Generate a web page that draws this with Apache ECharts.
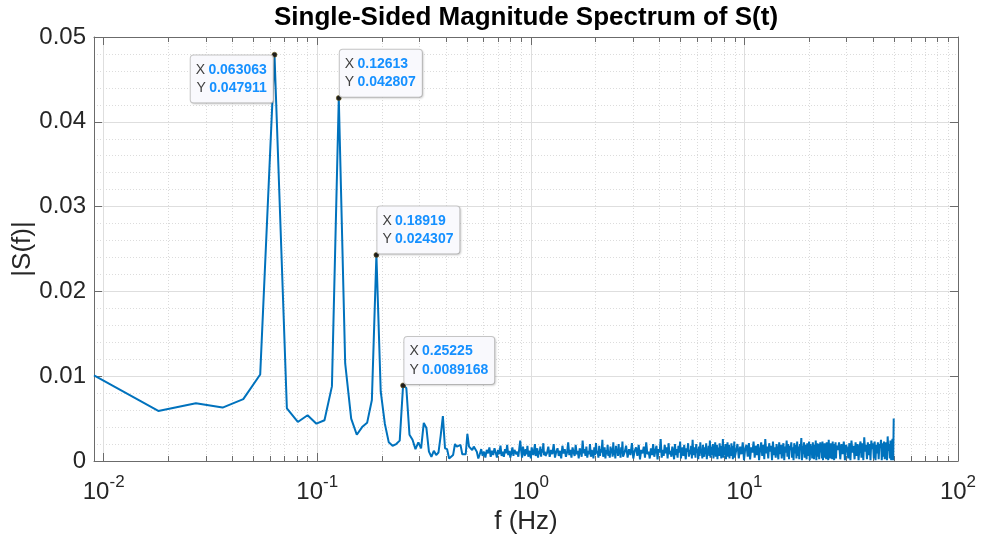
<!DOCTYPE html>
<html>
<head>
<meta charset="utf-8">
<script src="https://cdn.jsdelivr.net/npm/echarts@6/dist/echarts.min.js"></script>
<style>
html,body{margin:0;padding:0;background:#ffffff;}
#chart{width:981px;height:542px;}
</style>
</head>
<body>
<div id="chart"></div>
<script>
// ---------------- data ----------------
const titleText = 'Single-Sided Magnitude Spectrum of S(t)';
const xLabelText = 'f (Hz)';
const yLabelText = '|S(f)|';

const binWidthHz = 1 / 111;          // frequency resolution of the FFT
const lowStartBin = 1;               // first bin shown (bins 1..63, one per bin)
const lowMag = [
  0.0101, 0.0059, 0.0068, 0.0063, 0.0073, 0.0102, 0.047911, 0.0062, 0.0046, 0.0054,
  0.0044, 0.0048, 0.0088, 0.042807, 0.0115, 0.0050, 0.0031, 0.0040, 0.0045, 0.0072,
  0.024307, 0.0082, 0.0044, 0.0022, 0.0018, 0.0020, 0.0024, 0.0089168, 0.0086, 0.0031,
  0.0025, 0.0014, 0.0022, 0.0015, 0.0045, 0.0039, 0.0011, 0.0005, 0.0012, 0.0007,
  0.0010, 0.0030, 0.0053, 0.0015, 0.0014, 0.0003, 0.0001, 0.0007, 0.0020, 0.0017,
  0.0015, 0.0019, 0.0008, 0.0007, 0.0008, 0.0032, 0.0017, 0.0019, 0.0013, 0.0017,
  0.0015, 0.0011, 0.0003
];

// noise floor, read as segments: start bin and bin step for each
const segStartBin = [64, 132, 305, 1015, 3040];
const segBinStep  = [1, 2, 5, 15, 40];
const noiseA = [
  0.0008, 0.0014, 0.0006, 0.0011, 0.0004, 0.0013, 0.0009, 0.0016, 0.0005, 0.0012,
  0.0007, 0.0015, 0.0010, 0.0004, 0.0013, 0.0008, 0.0018, 0.0006, 0.0011, 0.0005,
  0.0014, 0.0009, 0.0019, 0.0007, 0.0012, 0.0004, 0.0010, 0.0016, 0.0006, 0.0013,
  0.0014, 0.0008, 0.0011, 0.0005, 0.0015, 0.0024, 0.0012, 0.0004, 0.0017, 0.0010,
  0.0006, 0.0014, 0.0008, 0.0018, 0.0005, 0.0012, 0.0009, 0.0003, 0.0016, 0.0011,
  0.0007, 0.0013, 0.0020, 0.0006, 0.0010, 0.0015, 0.0004, 0.0012, 0.0008, 0.0017,
  0.0005, 0.0014, 0.0010, 0.0021, 0.0007, 0.0011, 0.0006
];
const noiseB = [
  0.0009, 0.0017, 0.0005, 0.0013, 0.0008, 0.0020, 0.0004, 0.0011, 0.0015, 0.0006,
  0.0012, 0.0003, 0.0018, 0.0009, 0.0014, 0.0005, 0.0010, 0.0022, 0.0007, 0.0013,
  0.0004, 0.0016, 0.0010, 0.0006, 0.0019, 0.0008, 0.0012, 0.0003, 0.0015, 0.0011,
  0.0005, 0.0024, 0.0009, 0.0014, 0.0006, 0.0017, 0.0004, 0.0012, 0.0008, 0.0020,
  0.0005, 0.0013, 0.0010, 0.0003, 0.0016, 0.0007, 0.0021, 0.0009, 0.0012, 0.0004,
  0.0018, 0.0006, 0.0014, 0.0010, 0.0025, 0.0005, 0.0011, 0.0016, 0.0003, 0.0013,
  0.0008, 0.0019, 0.0006, 0.0012, 0.0004, 0.0017, 0.0009, 0.0015, 0.0005, 0.0022,
  0.0007, 0.0013, 0.0003, 0.0018, 0.0010, 0.0014, 0.0006, 0.0020, 0.0008, 0.0012,
  0.0004, 0.0016, 0.0009, 0.0023, 0.0005
];
const noiseC = [
  0.0010, 0.0018, 0.0004, 0.0014, 0.0007, 0.0021, 0.0003, 0.0012, 0.0016, 0.0006,
  0.0019, 0.0002, 0.0013, 0.0009, 0.0017, 0.0004, 0.0022, 0.0008, 0.0011, 0.0003,
  0.0015, 0.0007, 0.0020, 0.0005, 0.0012, 0.0018, 0.0002, 0.0014, 0.0010, 0.0026,
  0.0004, 0.0013, 0.0006, 0.0019, 0.0009, 0.0016, 0.0003, 0.0021, 0.0008, 0.0012,
  0.0005, 0.0017, 0.0011, 0.0002, 0.0020, 0.0007, 0.0014, 0.0004, 0.0018, 0.0010,
  0.0023, 0.0003, 0.0012, 0.0016, 0.0006, 0.0019, 0.0009, 0.0002, 0.0015, 0.0011,
  0.0021, 0.0005, 0.0013, 0.0008, 0.0018, 0.0003, 0.0025, 0.0007, 0.0012, 0.0016,
  0.0004, 0.0020, 0.0010, 0.0014, 0.0002, 0.0017, 0.0006, 0.0022, 0.0009, 0.0013,
  0.0003, 0.0019, 0.0011, 0.0005, 0.0016, 0.0008, 0.0021, 0.0002, 0.0014, 0.0010,
  0.0018, 0.0006, 0.0024, 0.0004, 0.0012, 0.0017, 0.0007, 0.0020, 0.0003, 0.0015,
  0.0009, 0.0022, 0.0005, 0.0013, 0.0019, 0.0002, 0.0016, 0.0011, 0.0006, 0.0021,
  0.0008, 0.0014, 0.0003, 0.0018, 0.0010, 0.0026, 0.0004, 0.0012, 0.0017, 0.0007,
  0.0020, 0.0002, 0.0015, 0.0009, 0.0022, 0.0005, 0.0013, 0.0019, 0.0003, 0.0016,
  0.0011, 0.0006, 0.0021, 0.0008, 0.0014, 0.0002, 0.0018, 0.0010, 0.0023, 0.0004
];
const noiseD = [
  0.0012, 0.0020, 0.0003, 0.0017, 0.0008, 0.0022, 0.0001, 0.0015, 0.0019, 0.0005,
  0.0021, 0.0002, 0.0016, 0.0010, 0.0023, 0.0004, 0.0018, 0.0007, 0.0020, 0.0001,
  0.0014, 0.0022, 0.0006, 0.0019, 0.0002, 0.0026, 0.0009, 0.0017, 0.0003, 0.0021,
  0.0011, 0.0018, 0.0001, 0.0023, 0.0007, 0.0016, 0.0004, 0.0020, 0.0012, 0.0002,
  0.0022, 0.0008, 0.0019, 0.0003, 0.0015, 0.0021, 0.0001, 0.0017, 0.0010, 0.0024,
  0.0005, 0.0020, 0.0002, 0.0018, 0.0013, 0.0022, 0.0004, 0.0016, 0.0001, 0.0021,
  0.0009, 0.0019, 0.0003, 0.0023, 0.0006, 0.0017, 0.0002, 0.0020, 0.0014, 0.0027,
  0.0001, 0.0018, 0.0008, 0.0022, 0.0004, 0.0019, 0.0011, 0.0002, 0.0021, 0.0006,
  0.0016, 0.0023, 0.0001, 0.0020, 0.0009, 0.0018, 0.0003, 0.0022, 0.0013, 0.0002,
  0.0019, 0.0007, 0.0024, 0.0001, 0.0017, 0.0021, 0.0005, 0.0020, 0.0002, 0.0015,
  0.0022, 0.0010, 0.0018, 0.0003, 0.0023, 0.0001, 0.0019, 0.0008, 0.0021, 0.0004,
  0.0017, 0.0002, 0.0022, 0.0012, 0.0020, 0.0001, 0.0025, 0.0006, 0.0018, 0.0003,
  0.0021, 0.0009, 0.0019, 0.0002, 0.0023, 0.0005, 0.0016, 0.0001, 0.0020, 0.0011,
  0.0022, 0.0003, 0.0018
];
const noiseE = [
  0.0013, 0.0022, 0.0002, 0.0020, 0.0008, 0.0023, 0.0001, 0.0019, 0.0015, 0.0003,
  0.0021, 0.0001, 0.0024, 0.0010, 0.0018, 0.0002, 0.0022, 0.0006, 0.0020, 0.0001,
  0.0017, 0.0023, 0.0004, 0.0021, 0.0001, 0.0028, 0.0011, 0.0019, 0.0002, 0.0022,
  0.0007, 0.0020, 0.0001, 0.0024, 0.0014, 0.0021, 0.0003, 0.0023, 0.0001, 0.0019,
  0.0009, 0.0022, 0.0002, 0.0020, 0.0016, 0.0025, 0.0001, 0.0021, 0.0005, 0.0023,
  0.0002, 0.0018, 0.0022, 0.0001, 0.0029, 0.0012, 0.0020, 0.0003, 0.0024, 0.0001,
  0.0021, 0.0026, 0.0001
];
const nyquistBin = 5550;
const nyquistMag = 0.0050;

// data tips
const tipBins = [7, 14, 21, 28];
const tipMag = [0.047911, 0.042807, 0.024307, 0.0089168];
const tipXText = ['0.063063', '0.12613', '0.18919', '0.25225'];
const tipYText = ['0.047911', '0.042807', '0.024307', '0.0089168'];

// axes
const xMinHz = 1 / 111;
const xMaxHz = 100;
const yMin = 0, yMax = 0.05, yStep = 0.01;
const minorMultipliers = [2, 3, 4, 5, 6, 7, 8, 9];
const minorDecades = [0.01, 0.1, 1, 10];

// ---------------- build ----------------
const FONT = '"Liberation Sans", Arial, Helvetica, sans-serif';
const AX = '#6b6b6b';

const noiseSegs = [noiseA, noiseB, noiseC, noiseD, noiseE];
const spectrum = [];
lowMag.forEach((m, i) => spectrum.push([(lowStartBin + i) * binWidthHz, m]));
noiseSegs.forEach((vals, s) => {
  vals.forEach((m, i) => spectrum.push([(segStartBin[s] + i * segBinStep[s]) * binWidthHz, m]));
});
spectrum.push([nyquistBin * binWidthHz, nyquistMag]);

const minorX = [];
minorDecades.forEach(d => minorMultipliers.forEach(m => minorX.push([m * d, 0])));

const tipLayouts = [
  {position: [1.1, 3.5], align: 'right', verticalAlign: 'top'},
  {position: [3.8, 1.5], align: 'left', verticalAlign: 'bottom'},
  {position: [3.8, 1.5], align: 'left', verticalAlign: 'bottom'},
  {position: [4.1, 1.5], align: 'left', verticalAlign: 'bottom'}
];
const markData = tipBins.map((b, i) => ({
  coord: [b * binWidthHz, tipMag[i]],
  label: Object.assign({
    formatter: '{k|X} {v|' + tipXText[i] + '}\n{k|Y} {v|' + tipYText[i] + '}'
  }, tipLayouts[i])
}));

const chart = echarts.init(document.getElementById('chart'), null, {renderer: 'canvas'});

const option = {
  animation: false,
  backgroundColor: '#ffffff',
  grid: {left: 94, right: 23, top: 37, bottom: 81, containLabel: false},
  graphic: [
    {type: 'text', left: null, x: 526, y: 17.5, style: {text: titleText, font: 'bold 26px ' + FONT, fill: '#000', align: 'center', verticalAlign: 'middle'}},
    {type: 'text', x: 526, y: 522, style: {text: xLabelText, font: '26px ' + FONT, fill: '#262626', align: 'center', verticalAlign: 'middle'}},
    {type: 'text', x: 23, y: 249, rotation: Math.PI / 2, style: {text: yLabelText, font: '26px ' + FONT, fill: '#262626', align: 'center', verticalAlign: 'middle'}}
  ],
  xAxis: [
    {
      type: 'log', logBase: 10, min: xMinHz, max: xMaxHz, position: 'bottom',
      axisLine: {show: true, onZero: false, lineStyle: {color: AX, width: 1}},
      axisTick: {show: true, inside: true, length: 8, lineStyle: {color: AX}},
      axisLabel: {
        show: true, showMinLabel: false, margin: 13,
        formatter: v => '{b|10}{s|' + Math.round(Math.log10(v)) + '}',
        rich: {
          b: {fontSize: 24, fontFamily: FONT, color: '#262626', lineHeight: 30, verticalAlign: 'bottom'},
          s: {fontSize: 17, fontFamily: FONT, color: '#262626', lineHeight: 30, verticalAlign: 'top'}
        }
      },
      splitLine: {show: true, lineStyle: {color: '#dedede', width: 1}}
    },
    {
      type: 'log', logBase: 10, min: xMinHz, max: xMaxHz, position: 'top',
      axisLine: {show: true, onZero: false, lineStyle: {color: AX, width: 1}},
      axisTick: {show: true, inside: true, length: 8, lineStyle: {color: AX}},
      axisLabel: {show: false},
      splitLine: {show: false}
    }
  ],
  yAxis: [
    {
      type: 'value', min: yMin, max: yMax, interval: yStep, position: 'left',
      axisLine: {show: true, lineStyle: {color: AX, width: 1}},
      axisTick: {show: true, inside: true, length: 8, lineStyle: {color: AX}},
      axisLabel: {fontSize: 24, fontFamily: FONT, color: '#262626', margin: 8},
      splitLine: {show: true, lineStyle: {color: '#dedede', width: 1}},
      minorTick: {show: false, splitNumber: 5},
      minorSplitLine: {show: true, lineStyle: {color: '#dcdcdc', width: 1, type: [1, 2]}}
    },
    {
      type: 'value', min: yMin, max: yMax, interval: yStep, position: 'right',
      axisLine: {show: true, lineStyle: {color: AX, width: 1}},
      axisTick: {show: true, inside: true, length: 8, lineStyle: {color: AX}},
      axisLabel: {show: false},
      splitLine: {show: false}
    }
  ],
  series: [
    {
      type: 'custom', silent: true, z: 1, xAxisIndex: 0, yAxisIndex: 0,
      data: minorX,
      encode: {x: 0, y: 1},
      renderItem: function (params, api) {
        const cs = params.coordSys;
        const x = Math.round(api.coord([api.value(0), 0])[0]) + 0.5;
        const top = cs.y, bot = cs.y + cs.height;
        return {
          type: 'group',
          children: [
            {type: 'line', shape: {x1: x, y1: top, x2: x, y2: bot}, style: {stroke: '#dadada', lineWidth: 1, lineDash: [1, 2]}},
            {type: 'line', shape: {x1: x, y1: bot, x2: x, y2: bot - 5}, style: {stroke: AX, lineWidth: 1}},
            {type: 'line', shape: {x1: x, y1: top, x2: x, y2: top + 5}, style: {stroke: AX, lineWidth: 1}}
          ]
        };
      }
    },
    {
      type: 'line', name: '|S(f)|', xAxisIndex: 0, yAxisIndex: 0, z: 3,
      data: spectrum, showSymbol: false, symbol: 'none',
      lineStyle: {color: '#0072BD', width: 2},
      emphasis: {disabled: true},
      markPoint: {
        symbol: 'circle', symbolSize: 5, silent: true,
        itemStyle: {color: '#1f1f1f', borderColor: '#6b5d1a', borderWidth: 0.6},
        label: {
          show: true,
          backgroundColor: '#f9f9fd', borderColor: '#c6c6c6', borderWidth: 1, borderRadius: 3,
          padding: [5, 6, 5, 5],
          shadowColor: 'rgba(0,0,0,0.12)', shadowBlur: 2, shadowOffsetX: 1, shadowOffsetY: 1,
          rich: {
            k: {fontSize: 14, fontFamily: FONT, color: '#404040', lineHeight: 18.5},
            v: {fontSize: 14, fontFamily: FONT, fontWeight: 'bold', color: '#1590ff', lineHeight: 18.5}
          }
        },
        data: markData
      }
    }
  ]
};
chart.setOption(option);
</script>
</body>
</html>
